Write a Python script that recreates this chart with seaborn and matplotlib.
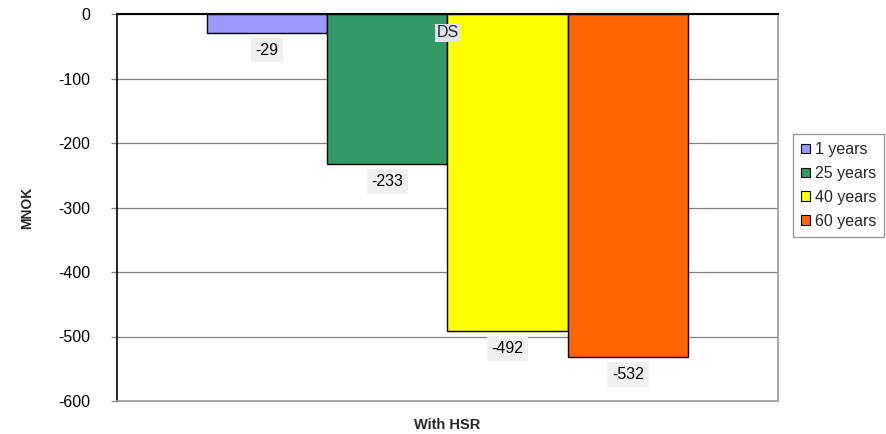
import matplotlib
matplotlib.use("Agg")
import matplotlib.pyplot as plt
from matplotlib.patches import Patch
import seaborn as sns
import pandas as pd

categories = ["With HSR"]
series = ["1 years", "25 years", "40 years", "60 years"]
values = [-29, -233, -492, -532]
colors = ["#9999ff", "#339966", "#ffff00", "#ff6600"]
series_tag = "DS"

sns.set_theme(style="white")
plt.rcParams["font.family"] = ["Liberation Sans", "DejaVu Sans"]
plt.rcParams["axes.unicode_minus"] = False

df = pd.DataFrame({"group": categories * len(series), "period": series, "value": values})

fig = plt.figure(figsize=(8.87, 4.34), dpi=100)
ax = fig.add_axes([117 / 887, 1 - 401 / 434, (778 - 117) / 887, (401 - 14) / 434])

sns.barplot(data=df, x="group", y="value", hue="period", hue_order=series,
            palette=colors, width=0.728, edgecolor="black", linewidth=1,
            saturation=1, legend=False, ax=ax)

ax.set_xlim(-0.5, 0.5)
ax.set_ylim(-600, 0)
ax.set_yticks(range(-600, 1, 100))
ax.yaxis.grid(True, color="#808080", linewidth=0.9)
ax.set_axisbelow(True)

for side in ["right", "bottom"]:
    ax.spines[side].set_color("#999999")
    ax.spines[side].set_linewidth(1.2)
ax.spines["left"].set_color("black")
ax.spines["left"].set_linewidth(1.2)
ax.spines["top"].set_color("black")
ax.spines["top"].set_linewidth(1.5)

ax.tick_params(axis="y", which="both", left=True, length=4, width=0.9,
               color="#808080", labelsize=11.5, pad=15.5, labelcolor="black")
ax.tick_params(axis="x", bottom=False, labelsize=10.5, pad=6.5)
for lbl in ax.get_xticklabels():
    lbl.set_fontweight("bold")

ax.set_xlabel("")
ax.set_ylabel("MNOK", fontsize=10, fontweight="bold", labelpad=17)

# value labels beneath each bar end
for patch, v in zip(ax.patches, values):
    cx = patch.get_x() + patch.get_width() / 2
    ax.annotate(f"{v}", xy=(cx, v), xytext=(0, -12.5), textcoords="offset points",
                ha="center", va="center", fontsize=11.5, color="black",
                bbox=dict(boxstyle="square,pad=0.3", facecolor="#f0f0f0", edgecolor="none"))

ax.text(0, values[0], series_tag, ha="center", va="center", fontsize=11.5,
        bbox=dict(boxstyle="square,pad=0.1", facecolor="#dde4ee", edgecolor="none"))

handles = [Patch(facecolor=c, edgecolor="black", linewidth=0.8) for c in colors]
leg = fig.legend(handles, series, loc="center left",
                 bbox_to_anchor=(793 / 887, 1 - 185.5 / 434),
                 frameon=True, fancybox=False, fontsize=11.5,
                 handlelength=0.55, handleheight=0.55, handletextpad=0.3,
                 labelspacing=0.55, borderpad=0.5, borderaxespad=0)
leg.get_frame().set_edgecolor("#808080")
leg.get_frame().set_linewidth(1)

fig.savefig("out.png", dpi=100)
